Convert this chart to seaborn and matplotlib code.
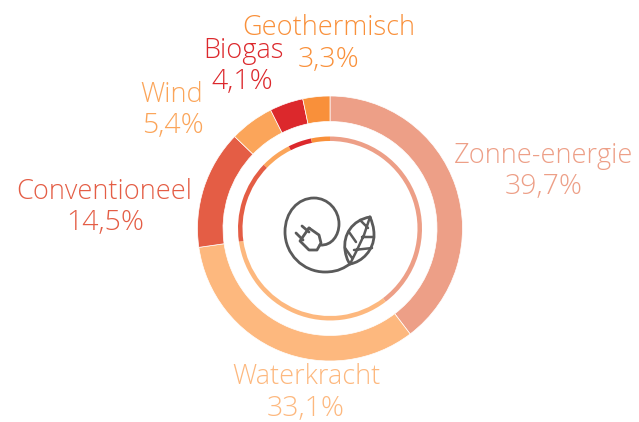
import seaborn as sns
import matplotlib
matplotlib.use("Agg")
import matplotlib.pyplot as plt
from matplotlib.path import Path
from matplotlib.patches import PathPatch

labels = ["Zonne-energie", "Waterkracht", "Conventioneel", "Wind", "Biogas", "Geothermisch"]
values = [39.7, 33.1, 14.5, 5.4, 4.1, 3.3]
colors = ["#ED9F87", "#FDB87E", "#E45D45", "#FBA55A", "#DC282C", "#F9903A"]

# label centres in pixels
label_x = [544, 306, 104, 172, 243, 329]
label_y = [156, 377, 192, 95, 51, 28]
pct_x = [544, 306, 105, 173, 242, 329]
pct_y = [187, 409, 223, 126, 82, 60]

W, H = 639, 422
CX, CY = 330, 228.5
ICON = "#5A5A5A"

sns.set_theme(style="white")
plt.rcParams["font.family"] = ["Open Sans", "DejaVu Sans"]

fig = plt.figure(figsize=(W / 100, H / 100), dpi=100)
ax = fig.add_axes([0, 0, 1, 1])

# buitenste ring en dunne binnenring
ax.pie(values, colors=colors, startangle=90, counterclock=False, radius=132.5,
       center=(CX, H - CY), wedgeprops=dict(width=25.5, edgecolor="white", linewidth=0.5))
ax.pie(values, colors=colors, startangle=90, counterclock=False, radius=92,
       center=(CX, H - CY), wedgeprops=dict(width=4.5, edgecolor="none"))

ax.set_xlim(0, W)
ax.set_ylim(0, H)
ax.set_aspect("equal")
ax.axis("off")

for i, name in enumerate(labels):
    ax.text(label_x[i], H - label_y[i], name, color=colors[i], fontsize=19.5,
            fontweight="light", ha="center", va="center")
    pct = f"{values[i]:.1f}".replace(".", ",") + "%"
    ax.text(pct_x[i], H - pct_y[i], pct, color=colors[i], fontsize=20.5,
            fontweight="light", ha="center", va="center")


def px(points):
    return [(x, H - y) for x, y in points]


def stroke(points, codes, lw=2.0):
    ax.add_patch(PathPatch(Path(px(points), codes), fill=False, edgecolor=ICON,
                           linewidth=lw, capstyle="round", joinstyle="round"))


M, L, C = Path.MOVETO, Path.LINETO, Path.CURVE4

# snoer
stroke([(320, 245), (332, 246), (339, 235), (339, 224),
        (339, 210), (328, 198), (314, 198),
        (298, 198), (285, 212), (285, 232),
        (285, 254), (303, 272), (325, 272),
        (339, 272), (345, 267), (350, 264)],
       [M, C, C, C, C, C, C, C, C, C, C, C, C, C, C, C])

# stekker
stroke([(309, 228), (300, 241), (309, 250), (317, 250),
        (321, 243), (319, 235), (309, 228)],
       [M, L, L, L, L, L, L])
stroke([(296, 233), (303, 240), (302, 226), (309, 232)], [M, L, M, L])

# blad
stroke([(370, 217), (352, 220), (343, 235), (345, 250),
        (346, 256), (347, 260), (350, 264),
        (362, 262), (374, 250), (374, 235),
        (374, 227), (372, 222), (370, 217)],
       [M, C, C, C, C, C, C, C, C, C, C, C, C])
stroke([(370, 217), (364, 235), (357, 250), (350, 264),
        (360, 220), (368, 228), (362, 237), (374, 237),
        (349, 232), (356, 242), (354, 250), (372, 248),
        (345, 248), (352, 258)],
       [M, L, L, L, M, L, M, L, M, L, M, L, M, L], lw=1.8)

plt.savefig("out.png", dpi=100)
